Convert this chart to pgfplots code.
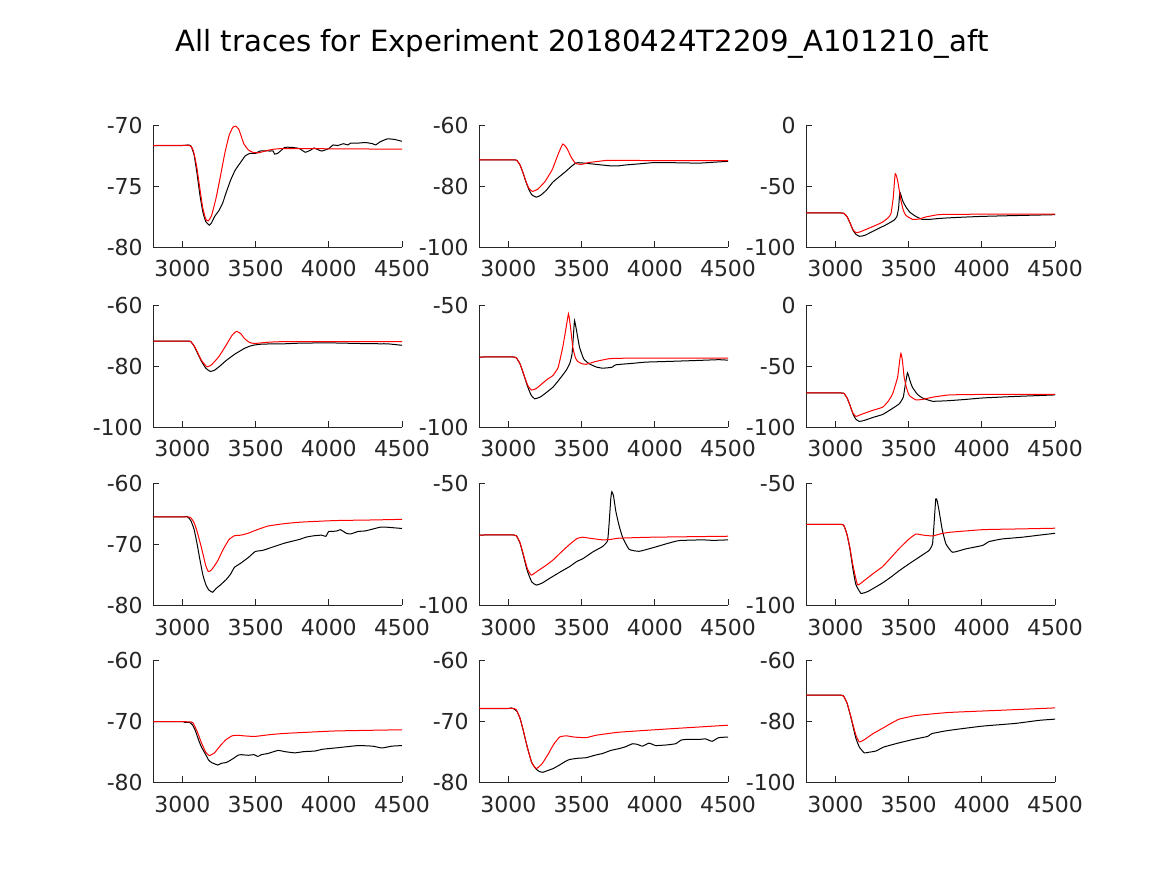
\documentclass[border=0pt]{standalone}
\usepackage{fontspec}
\setmainfont{DejaVu Sans}
\usepackage{pgfplots}
\pgfplotsset{compat=1.18}
\definecolor{axcol}{HTML}{262626}
\pgfplotsset{panel/.style={
  scale only axis, width=124.5pt, height=60.75pt,
  anchor=south west,
  xmin=2800, xmax=4500, xtick={3000,3500,4000,4500},
  axis x line*=bottom, axis y line*=left,
  tick align=inside, major tick length=3pt,
  tick style={color=axcol, line width=0.4pt},
  axis line style={color=axcol, line width=0.5pt},
  ticklabel style={font=\fontsize{11}{13}\selectfont, text=axcol},
  yticklabel style={xshift=-1.6pt},
  xticklabel style={yshift=-3.3pt},
  /pgf/number format/assume math mode=true,
  /pgf/number format/1000 sep={},
  every axis plot/.append style={line width=0.5pt, mark=none, smooth, tension=0.25},
}}
\begin{document}
\begin{tikzpicture}[x=1pt,y=1pt]
\path[use as bounding box] (0,0) rectangle (583.5,437.5);
\node[font=\fontsize{14.6}{17}\selectfont, text=black] at (291,415.5) {All traces for Experiment 20180424T2209\_A101210\_aft};

% Row 1
\begin{axis}[panel, at={(76.5pt,314pt)}, ymin=-80, ymax=-70, ytick={-80,-75,-70}]
\addplot[black] coordinates {(2800,-71.65)(3000,-71.65)(3040,-71.6)(3060,-71.7)(3080,-72.4)(3100,-73.9)(3120,-75.7)(3140,-77.1)(3160,-77.9)(3184,-78.2)(3200,-78.0)(3220,-77.5)(3250,-77.0)(3275,-76.4)(3300,-75.5)(3330,-74.5)(3360,-73.7)(3400,-73.0)(3430,-72.5)(3460,-72.3)(3500,-72.3)(3530,-72.1)(3600,-72.1)(3620,-72.1)(3630,-72.35)(3650,-72.3)(3670,-72.1)(3700,-71.8)(3750,-71.8)(3800,-71.9)(3840,-72.2)(3880,-72.0)(3900,-71.85)(3950,-72.1)(4000,-71.9)(4030,-71.6)(4060,-71.65)(4100,-71.5)(4130,-71.6)(4150,-71.45)(4200,-71.45)(4250,-71.4)(4300,-71.5)(4320,-71.6)(4350,-71.35)(4400,-71.1)(4450,-71.15)(4500,-71.3)};
\addplot[red] coordinates {(2800,-71.65)(3050,-71.65)(3080,-72.3)(3100,-73.5)(3120,-75.2)(3140,-76.8)(3160,-77.7)(3178,-77.85)(3200,-77.4)(3230,-76.0)(3260,-74.2)(3290,-72.3)(3320,-70.8)(3345,-70.15)(3365,-70.05)(3385,-70.3)(3400,-70.8)(3420,-71.5)(3450,-72.0)(3480,-72.2)(3520,-72.25)(3600,-72.0)(3700,-71.9)(4500,-71.95)};
\end{axis}
\begin{axis}[panel, at={(239.5pt,314pt)}, ymin=-100, ymax=-60, ytick={-100,-80,-60}]
\addplot[black] coordinates {(2800,-71.3)(3040,-71.3)(3060,-71.6)(3080,-73)(3100,-75.5)(3120,-78.5)(3140,-81)(3160,-82.8)(3191,-83.6)(3220,-83.0)(3260,-81.3)(3305,-78.6)(3350,-76.8)(3395,-75.0)(3430,-73.5)(3463,-72.3)(3500,-72.3)(3600,-72.8)(3700,-73.3)(3750,-73.3)(3800,-73.0)(3900,-72.6)(4000,-72.2)(4200,-72.3)(4300,-72.4)(4400,-72.1)(4500,-71.8)};
\addplot[red] coordinates {(2800,-71.3)(3040,-71.3)(3060,-71.6)(3080,-73)(3100,-75.5)(3120,-78.3)(3140,-80.6)(3164,-81.7)(3200,-81.0)(3250,-78.5)(3300,-74.5)(3340,-69.5)(3372,-66.1)(3400,-67.5)(3430,-70.5)(3460,-72.5)(3500,-72.8)(3550,-72.2)(3650,-71.6)(3700,-71.5)(4500,-71.6)};
\end{axis}
\begin{axis}[panel, at={(403pt,314pt)}, ymin=-100, ymax=0, ytick={-100,-50,0}]
\addplot[black] coordinates {(2800,-72)(3040,-72)(3060,-72.5)(3080,-75)(3100,-80)(3120,-86)(3140,-89.5)(3164,-91.2)(3200,-90.5)(3250,-87.5)(3300,-84.5)(3350,-81.5)(3400,-78)(3420,-75)(3432,-68)(3441,-55)(3460,-62)(3482,-67)(3510,-71.5)(3550,-74.8)(3595,-77.3)(3650,-77.2)(3700,-76.6)(3777,-76)(3900,-75.3)(4005,-74.8)(4200,-74.2)(4500,-73.4)};
\addplot[red] coordinates {(2800,-72)(3040,-72)(3060,-72.5)(3080,-75)(3100,-80)(3120,-85.5)(3141,-88.2)(3170,-87.5)(3220,-85)(3270,-82.5)(3323,-79.5)(3360,-76)(3380,-72.6)(3395,-60)(3409,-39.7)(3425,-45)(3448,-61.6)(3465,-70)(3482,-74)(3527,-77.3)(3570,-77)(3618,-75.3)(3680,-73.8)(3732,-73.2)(4000,-73)(4500,-72.9)};
\end{axis}

% Row 2
\begin{axis}[panel, at={(76.5pt,224pt)}, ymin=-100, ymax=-60, ytick={-100,-80,-60}]
\addplot[black] coordinates {(2800,-71.7)(3040,-71.7)(3060,-72)(3080,-73.3)(3100,-75.3)(3130,-78.3)(3160,-80.6)(3191,-81.7)(3220,-81.3)(3260,-79.8)(3300,-78.1)(3356,-76.1)(3400,-74.8)(3425,-74.1)(3460,-73.4)(3493,-73)(3550,-72.7)(3700,-72.6)(3800,-72.4)(4000,-72.3)(4200,-72.5)(4350,-72.6)(4400,-72.6)(4500,-73.1)};
\addplot[red] coordinates {(2800,-71.7)(3040,-71.7)(3060,-72)(3080,-73.2)(3100,-75.0)(3130,-78.0)(3168,-80.2)(3200,-79.5)(3250,-76.8)(3300,-73)(3340,-69.8)(3370,-68.5)(3400,-69.3)(3425,-70.9)(3460,-72.2)(3493,-72.5)(3540,-72.3)(3585,-72.1)(3700,-71.9)(4500,-71.9)};
\end{axis}
\begin{axis}[panel, at={(239.5pt,224pt)}, ymin=-100, ymax=-50, ytick={-100,-50}]
\addplot[black] coordinates {(2800,-71.2)(3040,-71.2)(3060,-72)(3080,-74)(3100,-77.5)(3130,-83)(3155,-86.8)(3180,-88.4)(3220,-87.6)(3260,-85.8)(3305,-83.6)(3350,-80.3)(3395,-76.7)(3420,-73.8)(3435,-70)(3445,-62)(3452,-56.2)(3465,-60)(3486,-67.1)(3515,-72)(3553,-74)(3600,-75.3)(3644,-75.8)(3700,-75.5)(3712,-75.3)(3734,-74.4)(3850,-73.8)(3938,-73.3)(4100,-73)(4300,-72.6)(4436,-72.3)(4500,-72.5)};
\addplot[red] coordinates {(2800,-71.2)(3040,-71.2)(3060,-72)(3080,-74)(3100,-77.3)(3130,-82.5)(3157,-84.8)(3190,-84.2)(3230,-82.2)(3270,-80.2)(3305,-78.8)(3340,-75.5)(3372,-67.1)(3395,-59)(3411,-53.4)(3425,-59)(3440,-67.1)(3458,-71.5)(3474,-73)(3500,-73.9)(3531,-74.2)(3599,-73)(3689,-71.9)(3800,-71.7)(4500,-71.7)};
\end{axis}
\begin{axis}[panel, at={(403pt,224pt)}, ymin=-100, ymax=0, ytick={-100,-50,0}]
\addplot[black] coordinates {(2800,-72)(3040,-72)(3060,-72.5)(3080,-76)(3100,-82)(3120,-89)(3140,-93.5)(3164,-95.4)(3200,-94.5)(3260,-92)(3323,-89.7)(3380,-85.5)(3436,-81)(3464,-75.5)(3478,-65)(3493,-55.4)(3510,-62)(3527,-67.4)(3560,-73)(3595,-76.1)(3664,-78.8)(3777,-78.3)(3900,-77.2)(4005,-76.1)(4200,-75)(4500,-73.6)};
\addplot[red] coordinates {(2800,-72)(3040,-72)(3060,-72.5)(3080,-76)(3100,-82)(3120,-88.5)(3141,-91.3)(3180,-89.5)(3250,-86.5)(3323,-83.7)(3360,-79)(3391,-72.8)(3425,-59.2)(3440,-45)(3448,-39.4)(3458,-45)(3470,-59)(3487,-68)(3505,-74)(3550,-77.7)(3600,-77.2)(3664,-75.5)(3777,-73.6)(4000,-73.2)(4500,-73.1)};
\end{axis}

% Row 3
\begin{axis}[panel, at={(76.5pt,135pt)}, ymin=-80, ymax=-60, ytick={-80,-70,-60}]
\addplot[black] coordinates {(2800,-65.5)(3010,-65.5)(3030,-65.4)(3045,-65.7)(3060,-66.2)(3080,-67.5)(3100,-69.8)(3120,-72.5)(3140,-75)(3160,-76.6)(3180,-77.5)(3207,-77.9)(3230,-77.3)(3260,-76.7)(3300,-75.8)(3330,-74.9)(3356,-73.8)(3400,-73.1)(3450,-72.2)(3498,-71.2)(3550,-71.0)(3600,-70.6)(3650,-70.2)(3700,-69.8)(3750,-69.5)(3800,-69.2)(3850,-68.8)(3900,-68.6)(3950,-68.5)(3980,-68.7)(4000,-67.9)(4050,-67.85)(4080,-67.6)(4120,-68.2)(4150,-68.3)(4200,-67.9)(4250,-67.8)(4300,-67.5)(4350,-67.2)(4400,-67.2)(4450,-67.3)(4500,-67.4)};
\addplot[red] coordinates {(2800,-65.5)(3040,-65.5)(3060,-65.7)(3080,-66.4)(3100,-67.8)(3130,-70.5)(3160,-73.5)(3178,-74.5)(3200,-74.2)(3240,-72.8)(3280,-70.8)(3320,-69.2)(3356,-68.6)(3400,-68.5)(3448,-68.2)(3500,-67.7)(3585,-67.0)(3700,-66.6)(3814,-66.35)(4043,-66.1)(4300,-66)(4500,-65.9)};
\end{axis}
\begin{axis}[panel, at={(239.5pt,135pt)}, ymin=-100, ymax=-50, ytick={-100,-50}]
\addplot[black] coordinates {(2800,-71.2)(3040,-71.2)(3060,-72)(3080,-74.5)(3100,-79)(3130,-86)(3160,-90.5)(3191,-91.8)(3230,-91)(3270,-89.5)(3305,-88.2)(3360,-86.2)(3418,-84.2)(3470,-82)(3508,-81)(3576,-78.2)(3644,-75.9)(3678,-73.5)(3690,-65)(3700,-56)(3707,-53.4)(3718,-55)(3734,-61.4)(3755,-67)(3780,-72.1)(3825,-77.1)(3893,-77.9)(3983,-76.5)(4080,-74.8)(4164,-73.5)(4322,-73.2)(4400,-73.4)(4500,-73.2)};
\addplot[red] coordinates {(2800,-71.2)(3040,-71.2)(3060,-72)(3080,-74.3)(3100,-78.5)(3130,-85)(3157,-87.7)(3200,-86)(3250,-84)(3305,-81.5)(3360,-78.3)(3418,-75.1)(3470,-72.6)(3508,-72.1)(3553,-72.5)(3644,-73.2)(3700,-73)(3757,-72.5)(3983,-72.1)(4500,-71.7)};
\end{axis}
\begin{axis}[panel, at={(403pt,135pt)}, ymin=-100, ymax=-50, ytick={-100,-50}]
\addplot[black] coordinates {(2800,-66.8)(3040,-66.8)(3060,-67.5)(3080,-71)(3100,-77)(3120,-85)(3140,-91.5)(3175,-95.2)(3220,-94.5)(3270,-92.8)(3323,-90.9)(3380,-88.5)(3436,-85.9)(3500,-83.2)(3550,-81.2)(3600,-79.2)(3641,-77.5)(3664,-74.8)(3676,-65)(3686,-56.3)(3695,-57)(3709,-61.4)(3730,-69)(3755,-74.8)(3800,-78.3)(3891,-76.9)(4005,-75.5)(4050,-73.9)(4141,-72.8)(4277,-72.1)(4400,-71.2)(4500,-70.5)};
\addplot[red] coordinates {(2800,-66.8)(3040,-66.8)(3060,-67.5)(3080,-71)(3100,-76.5)(3120,-83.5)(3152,-91.7)(3200,-89.8)(3260,-87)(3323,-84.2)(3380,-80.5)(3436,-76.8)(3500,-73)(3550,-70.8)(3595,-71.2)(3664,-71.6)(3720,-70.7)(3777,-70.1)(4005,-69)(4250,-68.7)(4500,-68.4)};
\end{axis}

% Row 4
\begin{axis}[panel, at={(76.5pt,46.5pt)}, ymin=-80, ymax=-60, ytick={-80,-70,-60}]
\addplot[black] coordinates {(2800,-70.05)(3000,-70.05)(3020,-70.2)(3050,-70.2)(3070,-70.6)(3090,-71.6)(3110,-73)(3130,-74.2)(3160,-75.5)(3180,-76.4)(3200,-76.8)(3220,-77.0)(3242,-77.2)(3270,-76.9)(3300,-76.8)(3330,-76.4)(3356,-76.0)(3380,-75.6)(3402,-75.5)(3450,-75.6)(3490,-75.5)(3516,-75.8)(3540,-75.5)(3585,-75.3)(3654,-74.8)(3700,-75.0)(3768,-75.2)(3830,-75.0)(3905,-74.9)(3960,-74.6)(4043,-74.4)(4120,-74.2)(4203,-74.0)(4300,-74.1)(4363,-74.4)(4430,-74.1)(4500,-74.0)};
\addplot[red] coordinates {(2800,-70.05)(3060,-70.1)(3080,-70.6)(3100,-71.6)(3130,-73.5)(3160,-75.1)(3184,-75.65)(3220,-75.2)(3260,-74)(3300,-73)(3340,-72.4)(3379,-72.3)(3420,-72.4)(3493,-72.5)(3600,-72.2)(3699,-72.0)(4043,-71.6)(4500,-71.4)};
\end{axis}
\begin{axis}[panel, at={(239.5pt,46.5pt)}, ymin=-80, ymax=-60, ytick={-80,-70,-60}]
\addplot[black] coordinates {(2800,-67.9)(3000,-67.9)(3020,-67.8)(3040,-68.0)(3060,-68.4)(3080,-69.5)(3100,-71.3)(3130,-74.3)(3160,-76.8)(3191,-77.9)(3215,-78.3)(3237,-78.4)(3270,-78.1)(3305,-77.8)(3350,-77.2)(3390,-76.6)(3418,-76.3)(3470,-76.1)(3531,-76.0)(3590,-75.6)(3644,-75.3)(3700,-74.8)(3757,-74.5)(3800,-74.2)(3848,-73.7)(3880,-73.8)(3916,-74.1)(3961,-73.6)(4006,-74.0)(4080,-73.9)(4142,-73.7)(4180,-73.1)(4210,-73.0)(4300,-73.0)(4346,-72.9)(4391,-73.3)(4436,-72.7)(4500,-72.6)};
\addplot[red] coordinates {(2800,-67.9)(3040,-67.9)(3060,-68.4)(3080,-69.5)(3100,-71.3)(3130,-74.3)(3160,-76.8)(3191,-77.8)(3230,-77.0)(3270,-75.5)(3310,-73.8)(3350,-72.6)(3395,-72.4)(3450,-72.6)(3531,-72.7)(3600,-72.3)(3757,-71.8)(4097,-71.25)(4500,-70.65)};
\end{axis}
\begin{axis}[panel, at={(403pt,46.5pt)}, ymin=-100, ymax=-60, ytick={-100,-80,-60}]
\addplot[black] coordinates {(2800,-71.4)(3040,-71.4)(3060,-72)(3080,-74)(3100,-77.5)(3120,-81.5)(3140,-85.5)(3164,-88.5)(3198,-90.4)(3230,-90.2)(3277,-89.8)(3330,-88.5)(3436,-87.1)(3540,-85.9)(3630,-85.0)(3650,-84.3)(3664,-84.0)(3750,-83.2)(3823,-82.7)(4005,-81.6)(4232,-80.7)(4391,-79.7)(4500,-79.3)};
\addplot[red] coordinates {(2800,-71.4)(3040,-71.4)(3060,-72)(3080,-74)(3100,-77.3)(3120,-81)(3140,-84.5)(3164,-86.8)(3200,-86)(3260,-84)(3323,-82.3)(3380,-80.7)(3436,-79.3)(3500,-78.6)(3550,-78.1)(3777,-77.1)(4118,-76.4)(4500,-75.6)};
\end{axis}
\end{tikzpicture}
\end{document}
